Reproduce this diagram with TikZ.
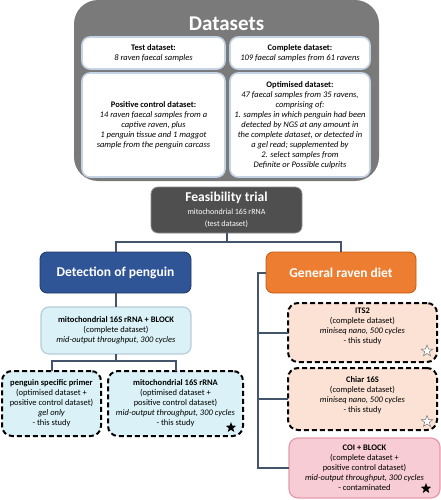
\documentclass[tikz,border=0pt]{standalone}
\usepackage{fontspec}
\setmainfont{Carlito}
\usetikzlibrary{shapes.geometric}
\definecolor{dsgray}{HTML}{7A7A7A}
\definecolor{wborder}{HTML}{C5D3E6}
\definecolor{feasfill}{HTML}{4F4F4F}
\definecolor{linec}{HTML}{44546A}
\definecolor{detblue}{HTML}{2F5597}
\definecolor{detborder}{HTML}{203864}
\definecolor{genorange}{HTML}{ED7D31}
\definecolor{genborder}{HTML}{C55A11}
\definecolor{cyanfill}{HTML}{DAF2F7}
\definecolor{cyanborder}{HTML}{B7CDD6}
\definecolor{peach}{HTML}{FBE2D5}
\definecolor{pinkfill}{HTML}{F8CCD5}
\definecolor{pinkborder}{HTML}{E59BAC}
\begin{document}
\begin{tikzpicture}[x=1pt,y=-1pt,
  every node/.style={inner sep=0pt, outer sep=0pt},
  bx/.style={rectangle, minimum width=#1},
  outerbox/.style={fill=dsgray, rounded corners=24pt},
  wbox/.style={fill=white, draw=wborder, line width=1.6pt, rounded corners=8pt},
  txt/.style={align=center, font=\fontsize{8.5}{10}\selectfont},
  dbox/.style={draw=black, line width=2pt, dash pattern=on 5pt off 3pt, rounded corners=10pt},
  conn/.style={draw=linec, line width=2pt},
  head/.style={align=center, text=white, font=\fontsize{13.5}{16}\selectfont\bfseries},
  bstar/.style={star, star points=5, star point ratio=2.4, minimum size=11pt, fill=black},
  wstar/.style={star, star points=5, star point ratio=2.4, minimum size=12pt, fill=white, draw=black!55, line width=0.5pt}
]
\useasboundingbox (0,0) rectangle (441,500);

% Datasets
\node[outerbox, bx=305pt, minimum height=181pt] (ds) at (226.5,90.5) {};
\node[text=white, font=\fontsize{21}{24}\selectfont\bfseries] (dstitle) at (226.5,24) {Datasets};
\node[wbox, bx=143pt, minimum height=32pt, txt] (test) at (153.5,53)
  {\textbf{Test dataset:}\\ \textit{8 raven faecal samples}};
\node[wbox, bx=140pt, minimum height=32pt, txt] (complete) at (300,53)
  {\textbf{Complete dataset:}\\ \textit{109 faecal samples from 61 ravens}};
\node[wbox, bx=143pt, minimum height=104pt, txt] (positive) at (153.5,125)
  {\textbf{Positive control dataset:}\\ \textit{14 raven faecal samples from a}\\ \textit{captive raven, plus}\\ \textit{1 penguin tissue and 1 maggot}\\ \textit{sample from the penguin carcass}};
\node[wbox, bx=140pt, minimum height=104pt, txt] (optimised) at (300,125)
  {\textbf{Optimised dataset:}\\ \textit{47 faecal samples from 35 ravens,}\\ \textit{comprising of:}\\ \textit{1. samples in which penguin had been}\\ \textit{detected by NGS at any amount in}\\ \textit{the complete dataset, or detected in}\\ \textit{a gel read; supplemented by}\\ \textit{2. select samples from}\\ \textit{Definite or Possible culprits}};

% Feasibility
\node[fill=feasfill, draw=black!45, line width=0.8pt, rounded corners=7pt, bx=151pt, minimum height=46pt, align=center, text=white] (feas) at (226.5,210)
  {{\fontsize{13.5}{15}\selectfont\bfseries Feasibility trial}\\[1pt]
   {\fontsize{8}{10}\selectfont mitochondrial 16S rRNA}\\
   {\fontsize{8}{10}\selectfont (test dataset)}};

% Level 2
\node[fill=detblue, draw=detborder, line width=0.8pt, rounded corners=7pt, bx=151pt, minimum height=41pt, head] (detect) at (115.5,272.5) {Detection of penguin};
\node[fill=genorange, draw=genborder, line width=0.8pt, rounded corners=7pt, bx=150pt, minimum height=41pt, head] (general) at (341,272.5) {General raven diet};

% Left branch
\node[fill=cyanfill, draw=cyanborder, line width=1.2pt, rounded corners=8pt, bx=150pt, minimum height=47pt, txt] (mito) at (116,330.5)
  {\textbf{mitochondrial 16S rRNA + BLOCK}\\ (complete dataset)\\ \textit{mid-output throughput, 300 cycles}};
\node[dbox, fill=cyanfill, bx=99pt, minimum height=65pt, txt] (primer) at (51.5,403.5)
  {\textbf{penguin specific primer}\\ (optimised dataset +\\ positive control dataset)\\ \textit{gel only}\\ - this study};
\node[dbox, fill=cyanfill, bx=135pt, minimum height=65pt, txt] (mito16) at (175.5,403.5)
  {\textbf{mitochondrial 16S rRNA}\\ (optimised dataset +\\ positive control dataset)\\ \textit{mid-output throughput, 300 cycles}\\ - this study};
\node[bstar] (star1) at (231,427.5) {};

% Right branch
\node[dbox, fill=peach, bx=149pt, minimum height=59pt] (its2) at (362.5,332.5) {};
\node[txt] (its2t) at (362.5,326.5)
  {\textbf{ITS2}\\ (complete dataset)\\ \textit{miniseq nano, 500 cycles}\\ - this study};
\node[wstar] (star2) at (427,351) {};
\node[dbox, fill=peach, bx=149pt, minimum height=62pt] (chiar) at (362.5,399) {};
\node[txt] (chiart) at (362.5,395.5)
  {\textbf{Chiar 16S}\\ (complete dataset)\\ \textit{miniseq nano, 500 cycles}\\ - this study};
\node[wstar] (star3) at (427,421.5) {};
\node[fill=pinkfill, draw=pinkborder, line width=1.2pt, rounded corners=9pt, bx=151pt, minimum height=60pt, txt] (coi) at (364.5,468)
  {\textbf{COI + BLOCK}\\ (complete dataset +\\ positive control dataset)\\ \textit{mid-output throughput, 300 cycles}\\ - contaminated};
\node[bstar] (star4) at (426,488.5) {};

% Connectors
\draw[conn] (feas.south) -- ++(0,9) coordinate (j1);
\draw[conn] (detect.north) |- (j1) -| (general.north);
\draw[conn] (detect.south) -- (detect.south |- mito.north);
\draw[conn] (mito.south) -- ++(0,7) coordinate (j2);
\draw[conn] (primer.north) |- (j2) -| (mito16.north);
\coordinate (rv) at (258,0);
\draw[conn] (general.west) -| (rv |- coi.west) -- (coi.west);
\draw[conn] (rv |- its2.west) -- (its2.west);
\draw[conn] (rv |- chiar.west) -- (chiar.west);
\end{tikzpicture}
\end{document}
